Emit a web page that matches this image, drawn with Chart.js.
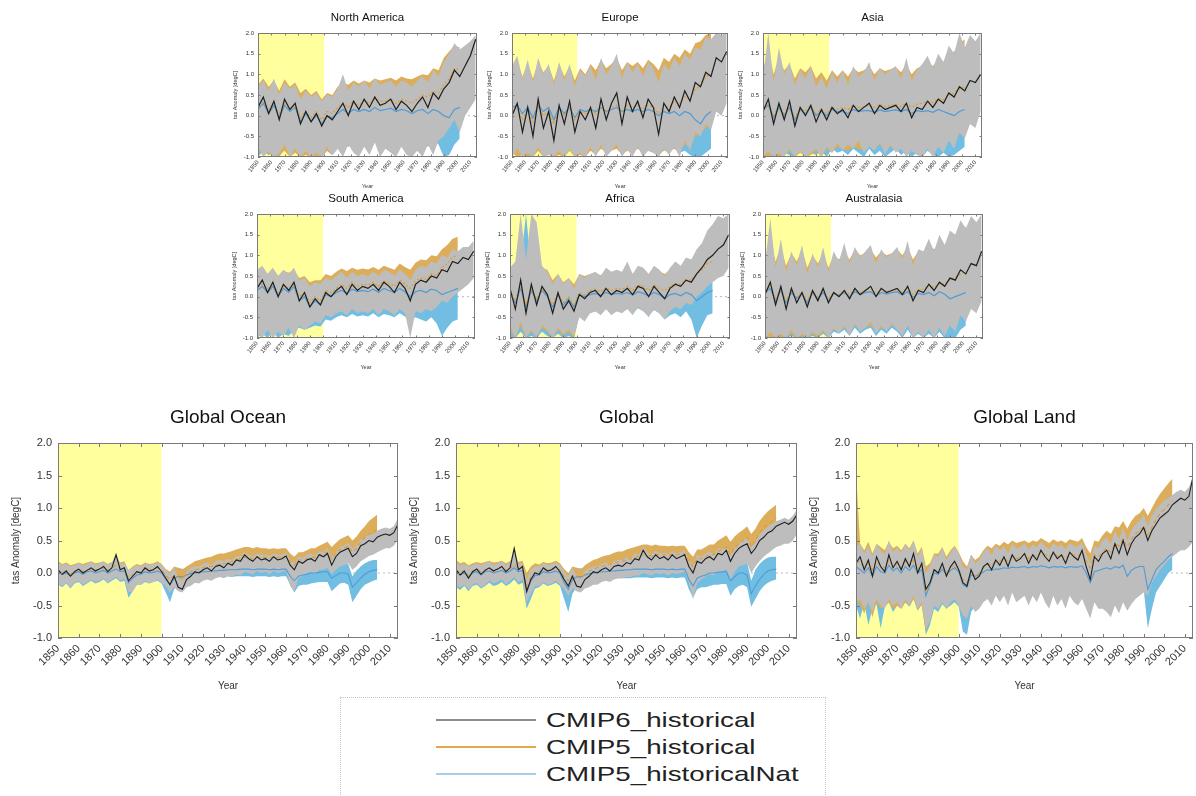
<!DOCTYPE html>
<html>
<head>
<meta charset="utf-8">
<script src="https://cdn.jsdelivr.net/npm/chart.js@4.4.1/dist/chart.umd.min.js"></script>
<style>
  html, body { margin: 0; padding: 0; background: #fff; overflow: hidden; }
  #fig { position: relative; width: 1196px; height: 796px; }
  #legend { position: absolute; left: 340px; top: 697px; width: 486px; height: 110px;
            border: 1px dotted #c4c4c4; box-sizing: border-box; font-family: "Liberation Sans", Arial, sans-serif; }
  #legend .row { position: absolute; left: 0; height: 26px; width: 100%; }
  #legend .swatch { position: absolute; left: 95px; top: 12px; width: 100px; height: 2px; }
  #legend .lab { position: absolute; left: 205px; top: 0; font-size: 21px; line-height: 26px; color: #222;
                 transform: scaleX(1.32); transform-origin: left center; white-space: nowrap; }
</style>
</head>
<body>
<div id="fig">
  <div id="legend">
    <div class="row" style="top:9px"><span class="swatch" style="background:#8c8c8c"></span><span class="lab">CMIP6_historical</span></div>
    <div class="row" style="top:36px"><span class="swatch" style="background:#e2a84a"></span><span class="lab">CMIP5_historical</span></div>
    <div class="row" style="top:63px"><span class="swatch" style="background:#a8cfe9"></span><span class="lab">CMIP5_historicalNat</span></div>
  </div>
</div>
<script>
// Temperature anomalies in hundredths of a degree C.
// Large panels: every 2 years from 1850 (CMIP6 to 2014, CMIP5 to 2004).
// Regional panels: every 4 years from 1850 (CMIP6 to 2014, CMIP5 to 2002).

const REF_PERIOD = [1850, 1900];
const Y_TICKS = [-1.0, -0.5, 0.0, 0.5, 1.0, 1.5, 2.0];

// ---- Global Ocean ----
const GO_C6 = [5,-2,3,-5,2,6,0,4,8,3, 6,10,2,8,28,5,8,-12,-5,2, 0,8,3,5,10,2,-8,-18,-5,-22, -25,-10,-5,2,0,5,8,3,10,12, 8,15,12,20,18,28,22,18,25,20, 22,18,25,20,22,26,12,5,18,15, 20,22,18,28,25,30,12,25,32,35, 38,25,30,42,45,50,48,55,58,60, 58,62,75];
const GO_C6_LO = [-18,-20,-15,-22,-15,-12,-18,-15,-10,-14, -12,-8,-15,-10,-5,-12,-8,-30,-28,-18, -18,-12,-16,-14,-10,-15,-20,-30,-22,-28, -30,-22,-20,-15,-16,-12,-10,-12,-8,-6, -8,-5,-6,-2,-4,2,0,-2,3,0, 2,-2,3,0,2,4,-20,-28,-8,-5, 0,2,-2,5,5,8,-2,5,10,12, 15,5,10,18,22,26,28,32,35,38, 38,42,52];
const GO_C6_HI = [15,12,14,10,12,15,12,14,18,12, 15,18,12,16,30,14,16,5,8,12, 10,15,12,14,16,12,5,-2,8,-8, -12,2,8,10,10,14,16,12,18,20, 18,22,20,26,25,32,28,25,30,28, 28,26,30,28,28,32,20,15,25,24, 28,30,26,34,32,38,25,32,40,42, 46,38,42,52,55,60,60,65,68,70, 68,72,85];
const GO_C5 = [5,0,4,-2,3,5,2,5,6,4, 6,8,4,7,12,6,8,-8,-3,2, 2,6,4,5,8,4,-4,-10,-4,-6, -8,-2,2,5,6,8,10,10,12,14, 14,16,18,20,22,24,24,22,25,24, 24,23,25,24,25,26,18,12,20,20, 22,24,24,28,30,32,22,30,36,38, 42,32,38,48,55,60,62,68];
const GO_C5_LO = [-12,-15,-10,-18,-12,-10,-14,-12,-8,-12, -10,-8,-12,-8,-6,-10,-8,-28,-22,-14, -14,-10,-12,-10,-8,-12,-18,-25,-18,-20, -20,-15,-10,-6,-4,-2,0,0,2,4, 5,6,8,10,12,14,14,12,15,14, 14,13,15,14,15,16,6,0,8,8, 10,12,12,16,18,20,10,18,24,26, 28,20,26,34,40,45,48,52];
const GO_C5_HI = [18,14,16,12,14,16,14,16,18,15, 16,18,14,17,22,16,18,4,10,14, 12,16,14,15,18,14,6,2,10,8, 5,10,14,18,20,22,24,25,28,30, 30,32,34,36,38,40,40,38,40,38, 38,37,38,37,38,38,30,25,32,32, 35,38,38,42,45,48,40,46,52,55, 58,50,56,65,72,80,85,90];
const GO_NAT = [2,-2,0,-4,0,2,-2,2,3,0, 2,4,0,3,6,2,4,-15,-8,-3, -2,2,0,1,3,0,-10,-18,-8,-5, -6,-3,-1,0,1,2,2,3,3,4, 4,5,5,5,6,6,6,5,6,6, 6,5,6,5,6,6,-5,-12,-5,-3, -2,0,0,1,2,2,-8,-4,0,0, -2,-22,-15,-8,-2,2,4,5];
const GO_NAT_LO = [-18,-22,-16,-24,-16,-14,-20,-16,-12,-16, -14,-10,-16,-12,-8,-14,-12,-38,-28,-18, -18,-14,-16,-14,-12,-16,-30,-45,-25,-18, -18,-14,-12,-10,-10,-8,-8,-7,-7,-6, -6,-5,-6,-5,-5,-5,-5,-6,-5,-5, -5,-6,-5,-6,-5,-5,-18,-30,-20,-18, -18,-16,-15,-14,-14,-14,-28,-22,-16,-15, -18,-45,-35,-25,-18,-15,-12,-10];
const GO_NAT_HI = [18,12,14,8,12,14,10,14,16,12, 14,16,12,15,18,14,15,0,5,10, 10,14,12,12,15,12,2,-8,6,8, 6,8,10,10,12,12,13,14,14,14, 15,15,16,16,16,17,17,16,17,17, 17,16,17,16,17,17,8,2,8,10, 10,12,12,14,14,15,5,10,14,15, 14,-5,4,10,15,18,20,20];

// ---- Global ----
const GL_C6 = [5,-3,3,-8,2,6,-2,4,8,3, 6,10,2,8,38,5,10,-28,-10,0, -2,8,3,5,10,2,-10,-20,-5,-20, -22,-10,-5,2,0,5,8,3,10,12, 10,16,14,22,20,35,25,20,28,22, 25,20,28,22,25,28,10,0,18,15, 22,25,20,30,28,35,18,30,38,42, 45,30,38,50,55,62,65,72,75,78, 75,80,90];
const GL_C6_LO = [-20,-22,-18,-25,-18,-15,-22,-18,-12,-16, -14,-10,-18,-12,-6,-14,-10,-45,-32,-20, -20,-14,-18,-16,-12,-18,-25,-35,-24,-28, -30,-24,-22,-18,-18,-14,-12,-14,-10,-8, -8,-6,-6,-4,-4,0,-2,-4,0,-2, 0,-4,0,-2,0,2,-15,-40,-15,-10, -5,-2,-4,2,2,6,-10,2,10,12, 15,0,10,18,25,30,35,40,42,45, 45,50,60];
const GL_C6_HI = [16,12,14,10,12,15,12,15,18,12, 15,18,12,16,40,14,16,-10,5,10, 10,15,12,14,16,12,2,-5,8,-5, -8,3,8,10,10,14,16,12,18,20, 20,24,22,30,28,40,32,28,34,30, 32,28,34,30,32,35,20,12,28,25, 30,33,28,38,36,42,28,38,45,50, 55,40,48,60,65,72,75,80,82,85, 82,88,98];
const GL_C5 = [5,0,4,-4,3,5,2,5,6,4, 6,8,4,7,14,6,8,-20,-6,2, 2,6,4,5,8,4,-6,-12,-4,-6, -8,-2,3,6,8,10,12,13,15,17, 18,20,22,24,26,28,28,26,29,28, 28,27,29,28,29,30,18,10,22,22, 25,28,28,33,36,40,28,38,45,50, 55,40,50,62,70,75,80,85];
const GL_C5_LO = [-14,-18,-12,-20,-14,-12,-16,-14,-10,-14, -12,-10,-14,-10,-6,-12,-10,-45,-28,-16, -16,-12,-14,-12,-10,-14,-22,-30,-20,-22, -22,-16,-10,-6,-4,-2,0,2,4,6, 7,8,10,12,14,16,16,14,17,16, 16,15,17,16,17,18,2,-8,8,10, 12,14,14,18,22,25,12,22,30,32, 36,22,32,42,50,55,60,65];
const GL_C5_HI = [20,15,17,12,15,17,15,17,19,16, 17,19,15,18,25,17,19,0,10,15, 13,17,15,16,19,15,6,0,10,8, 5,12,16,20,22,25,27,28,31,33, 33,36,38,40,42,44,44,42,44,42, 42,41,42,41,42,42,32,25,36,36, 40,44,44,50,54,58,48,56,62,66, 72,60,68,80,88,95,100,105];
const GL_NAT = [2,-3,0,-6,0,2,-3,2,3,0, 2,4,0,3,8,2,4,-30,-12,-4, -3,2,0,1,3,0,-15,-25,-10,-6, -6,-3,-1,0,1,2,2,3,3,4, 4,5,5,6,6,6,6,5,6,6, 6,5,6,5,6,6,-10,-20,-8,-5, -3,0,0,1,2,2,-12,-6,0,0, -3,-32,-20,-10,-2,3,5,6];
const GL_NAT_LO = [-22,-26,-20,-28,-20,-18,-24,-20,-15,-20, -18,-14,-20,-16,-10,-18,-15,-55,-40,-24, -22,-16,-20,-18,-15,-20,-40,-60,-32,-22, -22,-18,-15,-13,-12,-11,-10,-10,-9,-8, -8,-8,-8,-7,-7,-7,-7,-8,-7,-7, -7,-8,-7,-8,-7,-7,-25,-38,-25,-22, -22,-20,-18,-18,-17,-17,-35,-25,-20,-18, -22,-52,-40,-28,-20,-15,-12,-10];
const GL_NAT_HI = [20,14,16,10,14,16,12,16,18,14, 16,18,14,17,20,16,17,-10,4,12, 12,16,14,14,17,14,0,-12,6,8, 7,9,11,12,13,14,15,15,16,16, 17,17,18,18,18,19,19,18,19,19, 19,18,19,18,19,19,8,0,8,10, 12,14,14,16,16,17,6,12,16,17, 16,-12,5,14,20,24,25,25];

// ---- Global Land ----
const LD_C6 = [15,25,5,20,-5,25,10,2,28,8, 18,5,22,10,30,0,15,-25,-15,5, 0,15,-5,10,18,5,-15,-20,5,-10, -5,10,15,5,20,12,25,10,28,18, 22,30,15,28,20,35,25,18,32,22, 28,15,32,25,20,35,10,-10,25,18, 30,35,22,45,30,50,28,45,55,60, 70,50,65,75,85,90,95,105,110,115, 112,118,148];
const LD_C6_LO = [-45,-40,-55,-45,-60,-40,-50,-55,-40,-50, -45,-55,-40,-50,-35,-55,-45,-85,-75,-50, -55,-45,-55,-45,-40,-50,-65,-70,-50,-60, -55,-45,-40,-50,-35,-45,-35,-50,-30,-45, -40,-35,-50,-35,-45,-30,-45,-55,-35,-50, -40,-55,-35,-45,-50,-40,-55,-70,-45,-55, -55,-60,-68,-50,-62,-45,-58,-48,-40,-35, -30,-35,-15,-5,5,12,20,25,30,35, 35,40,48];
const LD_C6_HI = [40,45,30,42,25,45,35,28,50,32, 40,30,45,35,50,25,38,0,10,28, 25,38,20,32,40,30,10,5,28,15, 20,32,38,28,42,35,42,30,45,38, 40,46,36,44,40,48,42,36,46,40, 44,36,46,42,40,48,30,15,42,38, 50,55,45,65,52,70,50,65,75,80, 90,72,88,98,105,112,115,120,125,128, 125,132,148];
const LD_C5 = [20,15,10,15,5,18,10,8,20,10, 15,8,18,10,20,5,12,-30,-15,5, 3,12,0,8,14,5,-10,-15,2,-5, 0,8,14,12,18,18,22,18,25,22, 25,28,22,28,25,32,28,24,30,26, 28,22,30,28,26,32,18,8,28,25, 32,38,32,45,42,52,40,52,60,65, 72,58,70,82,92,98,105,110];
const LD_C5_LO = [-40,-50,-62,-45,-68,-45,-55,-50,-45,-55, -50,-55,-45,-50,-40,-55,-50,-90,-70,-50, -50,-45,-55,-45,-40,-50,-65,-70,-50,-45, -20,-15,-10,-5,0,0,5,5,8,5, 8,10,5,10,8,12,10,5,12,8, 10,5,12,10,8,12,0,-10,10,8, 15,20,15,28,25,35,22,35,42,48, 55,40,52,65,75,82,88,95];
const LD_C5_HI = [155,45,35,48,30,45,40,35,48,38, 42,35,45,38,50,30,40,10,15,30, 30,40,25,35,42,32,18,10,28,20, 25,35,42,38,45,42,48,44,50,46, 48,50,46,50,48,54,50,46,52,48, 50,46,52,50,48,54,40,30,50,48, 58,65,60,72,70,80,68,80,88,92, 100,88,100,112,122,130,138,145];
const LD_NAT = [10,5,0,8,-5,10,2,0,12,3, 8,0,10,4,12,0,5,-35,-18,0, -2,6,-3,4,8,2,-18,-22,-3,-5, -3,2,5,4,6,6,8,7,9,8, 9,10,8,10,9,11,10,8,10,9, 10,8,10,9,9,11,0,-15,2,4, 6,8,6,10,8,12,-5,4,8,10, 10,-25,-10,5,12,18,25,30];
const LD_NAT_LO = [-50,-70,-45,-80,-55,-48,-85,-52,-45,-60, -50,-55,-45,-52,-40,-58,-48,-95,-80,-55, -60,-48,-55,-50,-45,-52,-90,-95,-60,-50, -40,-35,-30,-32,-28,-30,-25,-28,-24,-26, -24,-22,-26,-22,-24,-20,-22,-26,-20,-24, -22,-26,-20,-22,-24,-20,-35,-45,-30,-30, -28,-25,-28,-22,-26,-20,-35,-28,-25,-22, -25,-85,-55,-30,-20,-10,0,5];
const LD_NAT_HI = [35,30,25,32,20,35,25,22,38,28, 30,22,32,26,35,20,28,-5,5,22, 20,28,15,25,30,22,0,-5,20,15, 18,22,25,24,26,26,28,27,29,28, 29,30,28,30,29,31,30,28,30,29, 30,28,30,29,29,31,20,5,22,24, 26,28,26,30,28,32,15,24,28,30, 30,5,15,28,35,40,45,48];

// ---- North America ----
const NAM_C6 = [20,45,5,35,-10,40,15,30,-20,10, -15,5,-25,0,-10, 10,30,0,35,15, 40,20,45,25,30, 40,15,35,25,10, 30,45,20,55,40, 65,80,110,95,120, 145,185];
const NAM_C6_LO = [-75,-100,-85,-100,-90,-70,-100,-80,-100,-85, -100,-90,-100,-75,-95, -80,-100,-70,-90,-100, -75,-95,-65,-100,-80, -90,-100,-75,-95,-100, -85,-100,-70,-95,-60, -50,-30,-10,-40,0, 20,40];
const NAM_C6_HI = [70,85,60,90,50,80,65,75,40,60, 45,55,35,50,45, 65,100,60,80,70, 85,65,90,75,80, 85,70,85,80,70, 85,95,80,110,95, 130,150,175,160,170, 180,195];
const NAM_C5 = [25,35,15,30,5,30,15,25,-5,10, -5,10,-10,10,5, 20,30,20,35,25, 35,30,40,35,35, 40,30,40,35,30, 40,50,45,60,55, 75,90,115,110];
const NAM_C5_LO = [-80,-95,-90,-100,-95,-85,-100,-90,-100,-95, -100,-100,-100,-85,-95, -60,-40,-50,-30,-45, -30,-40,-25,-35,-30, -25,-40,-25,-30,-40, -30,-20,-30,-10,-20, 0,10,35,30];
const NAM_C5_HI = [75,90,70,85,60,88,70,80,55,65, 50,60,40,55,50, 70,80,75,85,78, 85,80,90,85,88, 92,85,95,90,88, 95,100,98,115,110, 140,155,170,165];
const NAM_NAT = [15,30,5,25,-5,25,10,20,-15,5, -15,0,-20,0,-5, 5,15,5,15,10, 15,10,20,12,15, 18,10,15,12,5, 12,15,5,15,10, 0,-5,15,20];
const NAM_NAT_LO = [-100,-85,-95,-90,-100,-80,-95,-85,-100,-90, -100,-95,-100,-85,-95, -80,-70,-75,-65,-70, -65,-70,-60,-70,-65, -60,-70,-65,-70,-75, -70,-65,-75,-60,-70, -100,-95,-70,-55];
const NAM_NAT_HI = [65,75,55,70,40,70,55,65,35,50, 40,45,30,45,40, 55,60,50,60,55, 60,55,62,58,60, 62,55,60,58,50, 55,60,50,60,55, 45,40,55,60];

// ---- Europe ----
const EUR_C6 = [0,30,-40,20,-50,40,-30,10,-60,25, -20,35,-40,10,-10, 20,-30,40,-10,30, 55,-20,45,10,35, -5,40,20,-45,30, 10,45,20,60,35, 80,70,105,95,140, 130,155];
const EUR_C6_LO = [-100,-80,-100,-90,-100,-75,-100,-95,-100,-85, -100,-80,-100,-90,-100, -75,-100,-70,-100,-85, -70,-100,-80,-100,-75, -100,-85,-90,-100,-80, -95,-75,-100,-60,-85, -40,-50,-20,-35,10, 0,30];
const EUR_C6_HI = [120,145,90,135,80,140,100,125,75,130, 85,125,70,110,95, 120,85,140,100,120, 150,90,130,105,125, 95,130,115,80,125, 110,140,120,150,135, 165,160,190,185,200, 195,200];
const EUR_C5 = [10,20,-10,15,-15,20,0,10,-20,15, 0,20,-10,10,5, 15,5,20,10,20, 25,10,25,20,25, 15,25,20,5,25, 20,35,30,45,40, 65,70,95,100];
const EUR_C5_LO = [-90,-100,-95,-100,-100,-85,-100,-90,-100,-95, -100,-85,-100,-95,-100, -85,-95,-80,-90,-85, -80,-95,-85,-90,-80, -90,-85,-90,-95,-85, -85,-80,-85,-70,-75, -50,-45,-30,-20];
const EUR_C5_HI = [110,130,95,125,90,130,105,120,85,125, 95,120,85,115,100, 125,110,135,115,125, 140,110,130,120,130, 115,135,125,110,140, 130,150,140,160,150, 175,180,195,200];
const EUR_NAT = [20,25,5,20,-5,25,10,20,-10,20, 5,20,-5,15,10, 15,10,20,10,15, 20,10,15,10,15, 10,15,10,0,10, 5,10,0,10,5, -10,-20,0,10];
const EUR_NAT_LO = [-80,-95,-85,-100,-90,-75,-95,-80,-100,-85, -90,-75,-95,-85,-90, -75,-85,-70,-80,-75, -70,-85,-75,-80,-70, -80,-75,-80,-90,-80, -85,-80,-90,-85,-95, -100,-100,-90,-80];
const EUR_NAT_HI = [90,110,80,100,70,105,85,95,65,100, 80,95,70,90,85, 95,85,100,85,90, 100,85,95,88,92, 88,95,90,75,88, 85,90,80,90,85, 70,60,80,90];

// ---- Asia ----
const ASI_C6 = [10,40,-20,30,-10,35,-25,20,0,25, -15,15,-10,20,5, 15,-5,25,10,20, 30,5,25,15,20, 25,10,30,-5,20, 15,35,20,40,30, 55,45,70,60,85, 80,100];
const ASI_C6_LO = [-100,-85,-100,-90,-100,-80,-100,-85,-100,-90, -80,-100,-75,-90,-65, -85,-70,-80,-60,-90, -75,-85,-65,-95,-70, -90,-80,-100,-85,-95, -100,-80,-100,-75,-90, -60,-80,-40,-55,-20, -30,10];
const ASI_C6_HI = [90,200,80,165,100,130,75,110,90,120, 70,95,65,105,80, 110,75,120,95,105, 130,85,115,100,110, 120,90,140,85,110, 125,145,115,150,130, 170,150,200,165,195, 180,200];
const ASI_C5 = [20,30,0,25,5,25,-5,20,10,25, 5,15,5,20,15, 20,15,25,20,22, 25,20,28,22,25, 28,22,30,20,28, 30,35,32,40,38, 50,55,65,70];
const ASI_C5_LO = [-95,-100,-90,-100,-95,-85,-100,-90,-100,-95, -85,-100,-80,-90,-75, -80,-85,-75,-80,-85, -75,-80,-70,-85,-75, -80,-75,-85,-80,-85, -80,-75,-80,-70,-75, -60,-55,-45,-40];
const ASI_C5_HI = [110,160,100,140,110,125,90,115,105,120, 90,105,85,110,95, 110,95,115,105,110, 120,100,115,108,112, 118,105,125,100,115, 120,130,120,135,130, 150,155,175,185];
const ASI_NAT = [15,25,-5,20,0,20,-10,15,5,20, 0,10,0,15,10, 10,5,15,10,12, 12,8,14,10,12, 14,10,15,5,12, 10,12,8,15,10, 5,0,10,15];
const ASI_NAT_LO = [-100,-95,-100,-100,-90,-95,-100,-85,-95,-90, -95,-85,-100,-80,-90, -85,-95,-80,-90,-100, -80,-95,-85,-100,-90, -80,-95,-85,-100,-90, -100,-85,-95,-100,-90, -100,-95,-85,-75];
const ASI_NAT_HI = [80,110,70,100,85,95,65,90,80,95, 70,85,70,90,80, 85,75,90,80,85, 90,80,88,82,86, 90,80,92,75,85, 85,88,80,90,82, 75,70,80,85];

// ---- South America ----
const SAM_C6 = [20,40,10,35,0,30,15,35,-10,10, -25,-5,-20,10,0, 15,25,5,30,15, 25,20,30,15,35, 25,10,35,20,-10, 30,40,35,50,45, 65,60,85,80,95, 90,110];
const SAM_C6_LO = [-90,-100,-80,-100,-85,-95,-75,-100,-70,-80, -70,-60,-65,-45,-50, -40,-35,-45,-30,-40, -35,-40,-30,-45,-30, -35,-45,-30,-40,-100, -35,-40,-30,-35,-25, -10,-15,0,10,20, 30,45];
const SAM_C6_HI = [65,75,55,70,50,65,55,70,40,45, 25,35,30,45,40, 50,60,45,60,50, 55,50,60,50,65, 60,50,65,55,40, 65,75,70,85,80, 100,95,115,110,120, 120,135];
const SAM_C5 = [25,30,20,30,10,25,20,30,0,10, -15,0,-10,15,10, 20,30,20,35,25, 30,28,35,25,38, 32,25,40,30,20, 38,45,42,55,52, 70,80,95,100];
const SAM_C5_LO = [-70,-80,-60,-75,-65,-70,-55,-70,-50,-60, -60,-50,-55,-35,-40, -25,-15,-20,-10,-15, -10,-15,-5,-15,-5, -10,-15,-5,-10,-20, -5,5,0,15,10, 25,30,45,50];
const SAM_C5_HI = [60,70,55,68,50,62,58,65,45,50, 35,40,40,55,50, 60,68,62,70,65, 68,66,72,65,75, 70,65,80,72,65, 82,90,88,100,98, 115,125,140,145];
const SAM_NAT = [15,25,10,25,0,20,10,25,-10,0, -25,-10,-20,5,0, 10,15,8,18,12, 15,12,18,10,20, 15,10,20,12,0, 12,15,10,18,15, 5,10,15,20];
const SAM_NAT_LO = [-100,-90,-100,-85,-100,-90,-95,-80,-75,-80, -75,-70,-72,-55,-58, -50,-45,-50,-42,-48, -45,-48,-40,-50,-42, -45,-50,-40,-48,-60, -50,-55,-60,-50,-65, -95,-75,-60,-55];
const SAM_NAT_HI = [55,65,50,62,45,58,50,62,30,40, 20,30,25,40,35, 45,50,42,52,48, 50,48,52,45,55, 50,45,55,48,40, 48,52,45,55,50, 40,45,50,55];

// ---- Africa ----
const AFR_C6 = [20,-30,40,-40,30,-20,25,5,-40,10, -30,-10,-35,5,-5, 10,15,0,20,5, 15,10,20,5,25, 20,0,25,10,-5, 20,30,25,40,35, 55,70,90,100,115, 125,150];
const AFR_C6_LO = [-70,-100,-60,-100,-80,-100,-70,-80,-100,-75, -90,-80,-95,-50,-60, -40,-35,-45,-30,-45, -35,-40,-30,-45,-25, -35,-50,-30,-40,-55, -35,-25,-30,-15,-20, 0,10,25,35,45, 50,70];
const AFR_C6_HI = [70,85,200,90,200,180,75,60,30,55, 30,45,20,55,45, 55,60,50,70,60, 65,60,85,55,75, 70,55,75,65,50, 70,85,75,95,90, 115,130,160,175,195, 190,200];
const AFR_C5 = [15,-10,25,-20,20,-5,20,5,-20,10, -15,0,-20,10,5, 15,18,12,22,15, 20,18,25,15,28, 25,15,28,20,15, 25,32,30,42,40, 55,65,80,85];
const AFR_C5_LO = [-80,-100,-70,-100,-85,-95,-75,-85,-100,-80, -95,-85,-100,-40,-45, -25,-20,-28,-15,-25, -20,-22,-15,-25,-10, -15,-25,-10,-20,-25, -10,0,-5,10,5, 20,30,45,50];
const AFR_C5_HI = [65,80,90,85,75,60,70,65,40,55, 35,45,30,55,50, 55,58,52,62,56, 60,58,65,55,68, 65,55,68,62,55, 65,72,70,85,82, 100,110,125,130];
const AFR_NAT = [10,-15,20,-25,15,-10,15,0,-25,5, -20,-5,-25,5,0, 5,8,3,10,5, 8,6,10,4,12, 8,2,10,5,-5, 5,8,2,10,5, -10,0,10,15];
const AFR_NAT_LO = [-100,-100,-85,-100,-95,-100,-85,-95,-100,-90, -100,-95,-100,-45,-55, -40,-35,-42,-30,-40, -35,-38,-30,-40,-28, -35,-45,-32,-40,-55, -45,-40,-50,-35,-55, -100,-70,-45,-40];
const AFR_NAT_HI = [55,70,80,200,65,50,60,55,25,45, 25,35,15,45,40, 40,42,38,45,40, 42,40,45,38,48, 42,35,45,40,30, 40,45,38,48,40, 30,40,50,55];

// ---- Australasia ----
const AUS_C6 = [5,35,-20,25,-30,20,-15,10,-25,15, -10,20,-15,10,0, 15,-5,20,5,15, 25,0,20,10,15, 20,5,25,-10,15, 10,30,15,35,25, 45,40,65,55,80, 75,110];
const AUS_C6_LO = [-100,-85,-100,-90,-100,-80,-100,-90,-100,-85, -95,-80,-100,-75,-90, -70,-95,-65,-85,-75, -60,-90,-70,-85,-65, -80,-95,-70,-100,-85, -100,-80,-100,-75,-95, -70,-85,-45,-60,-30, -40,-10];
const AUS_C6_HI = [80,190,70,140,60,110,75,125,55,105, 70,120,60,110,85, 130,80,120,95,110, 125,80,115,95,105, 120,90,135,75,115, 110,140,110,150,125, 160,150,185,165,195, 180,200];
const AUS_C5 = [15,25,-5,20,-10,15,0,10,-10,15, 0,15,-5,10,5, 15,5,18,10,15, 20,8,18,12,16, 20,10,22,5,18, 18,28,22,32,30, 42,45,55,60];
const AUS_C5_LO = [-90,-100,-95,-100,-95,-90,-100,-95,-100,-90, -100,-85,-95,-80,-85, -75,-85,-70,-80,-75, -70,-85,-75,-80,-70, -75,-85,-70,-90,-80, -85,-75,-80,-70,-75, -60,-55,-45,-40];
const AUS_C5_HI = [90,140,85,120,75,105,85,115,70,100, 80,105,70,100,90, 110,90,115,100,105, 115,95,110,100,105, 115,100,120,90,110, 110,125,115,130,125, 145,150,165,170];
const AUS_NAT = [10,20,-10,15,-15,10,-5,8,-15,10, -5,10,-10,8,2, 10,0,12,5,10, 12,2,10,6,10, 12,4,12,-2,8, 5,10,2,12,6, -5,0,5,10];
const AUS_NAT_LO = [-100,-95,-100,-100,-100,-95,-100,-100,-100,-95, -100,-90,-100,-85,-90, -80,-95,-75,-90,-80, -75,-95,-80,-90,-75, -85,-100,-80,-100,-90, -100,-90,-100,-85,-100, -100,-100,-80,-70];
const AUS_NAT_HI = [75,120,65,100,60,90,70,95,55,85, 65,90,55,85,75, 90,70,92,80,85, 92,72,88,80,85, 92,75,95,65,85, 80,88,75,90,80, 70,75,80,85];

// ---------------------------------------------------------------
const FONT = '"Liberation Sans", Arial, Helvetica, sans-serif';
const COL = {
  ref: '#ffff9e', c6Band: '#bdbdbd', c5Band: '#dcae5c', natBand: '#72bde2',
  c6Line: '#1e1e1e', c5Line: '#e59a22', natLine: '#4f9bd6', zero: '#b8b8b8', frame: '#7a7a7a'
};

// Styles for the two panel sizes
const LARGE = {
  start: 1850, step: 2, xMax: 2014, yW: 52, padR: 10, head: 43, plotH: 195, xH: 58,
  titleSize: 19, titlePad: {top: 6.6, bottom: 13.6},
  tickSize: 11, xTickPad: 4, yTickPad: 6, rot: 45,
  axisTitleSize: 10, xTitlePad: {top: 0, bottom: 4}, yTitlePad: {top: 4, bottom: 4},
  meanW: 1.1, dash: [4, 3], tick: 4
};
const SMALL = {
  start: 1850, step: 4, xMax: 2015, yW: 28, padR: 6, head: 33, plotH: 124, xH: 35,
  titleSize: 11.5, titlePad: {top: 10.7, bottom: 8.5},
  tickSize: 6, xTickPad: 2, yTickPad: 4, rot: 50,
  axisTitleSize: 5.5, xTitlePad: {top: 0, bottom: 2}, yTitlePad: {top: 2, bottom: 1},
  meanW: 1.2, dash: [2, 2], tick: 2.5
};

const PANELS = [
  {title: 'North America', size: SMALL, left: 258, top: 33, w: 219,
   c6: [NAM_C6, NAM_C6_LO, NAM_C6_HI], c5: [NAM_C5, NAM_C5_LO, NAM_C5_HI], nat: [NAM_NAT, NAM_NAT_LO, NAM_NAT_HI]},
  {title: 'Europe', size: SMALL, left: 512, top: 33, w: 216,
   c6: [EUR_C6, EUR_C6_LO, EUR_C6_HI], c5: [EUR_C5, EUR_C5_LO, EUR_C5_HI], nat: [EUR_NAT, EUR_NAT_LO, EUR_NAT_HI]},
  {title: 'Asia', size: SMALL, left: 763, top: 33, w: 219,
   c6: [ASI_C6, ASI_C6_LO, ASI_C6_HI], c5: [ASI_C5, ASI_C5_LO, ASI_C5_HI], nat: [ASI_NAT, ASI_NAT_LO, ASI_NAT_HI]},
  {title: 'South America', size: SMALL, left: 257, top: 214, w: 218,
   c6: [SAM_C6, SAM_C6_LO, SAM_C6_HI], c5: [SAM_C5, SAM_C5_LO, SAM_C5_HI], nat: [SAM_NAT, SAM_NAT_LO, SAM_NAT_HI]},
  {title: 'Africa', size: SMALL, left: 510, top: 214, w: 220,
   c6: [AFR_C6, AFR_C6_LO, AFR_C6_HI], c5: [AFR_C5, AFR_C5_LO, AFR_C5_HI], nat: [AFR_NAT, AFR_NAT_LO, AFR_NAT_HI]},
  {title: 'Australasia', size: SMALL, left: 765, top: 214, w: 218,
   c6: [AUS_C6, AUS_C6_LO, AUS_C6_HI], c5: [AUS_C5, AUS_C5_LO, AUS_C5_HI], nat: [AUS_NAT, AUS_NAT_LO, AUS_NAT_HI]},
  {title: 'Global Ocean', size: LARGE, left: 58, top: 443, w: 340,
   c6: [GO_C6, GO_C6_LO, GO_C6_HI], c5: [GO_C5, GO_C5_LO, GO_C5_HI], nat: [GO_NAT, GO_NAT_LO, GO_NAT_HI]},
  {title: 'Global', size: LARGE, left: 456, top: 443, w: 341,
   c6: [GL_C6, GL_C6_LO, GL_C6_HI], c5: [GL_C5, GL_C5_LO, GL_C5_HI], nat: [GL_NAT, GL_NAT_LO, GL_NAT_HI]},
  {title: 'Global Land', size: LARGE, left: 856, top: 443, w: 337,
   c6: [LD_C6, LD_C6_LO, LD_C6_HI], c5: [LD_C5, LD_C5_LO, LD_C5_HI], nat: [LD_NAT, LD_NAT_LO, LD_NAT_HI]}
];

// Plot frame with inward tick marks on all four sides
const framePlugin = {
  id: 'frame',
  afterDatasetsDraw(chart, args, opts) {
    const {ctx, chartArea: a, scales} = chart;
    ctx.save();
    ctx.strokeStyle = opts.color;
    ctx.lineWidth = 1;
    ctx.strokeRect(a.left + 0.5, a.top + 0.5, a.right - a.left - 1, a.bottom - a.top - 1);
    ctx.beginPath();
    scales.x.ticks.forEach(t => {
      const px = Math.round(scales.x.getPixelForValue(t.value)) + 0.5;
      ctx.moveTo(px, a.bottom); ctx.lineTo(px, a.bottom - opts.len);
      ctx.moveTo(px, a.top); ctx.lineTo(px, a.top + opts.len);
    });
    scales.y.ticks.forEach(t => {
      const py = Math.round(scales.y.getPixelForValue(t.value)) + 0.5;
      ctx.moveTo(a.left, py); ctx.lineTo(a.left + opts.len, py);
      ctx.moveTo(a.right, py); ctx.lineTo(a.right - opts.len, py);
    });
    ctx.stroke();
    ctx.restore();
  }
};

function sampleYears(start, step, n) {
  const out = [];
  for (let i = 0; i < n; i++) out.push(start + i * step);
  return out;
}
function toPoints(vals, S) {
  const yrs = sampleYears(S.start, S.step, vals.length);
  return vals.map((v, i) => ({x: yrs[i], y: v / 100}));
}
function meanLine(vals, color, S, dash, order) {
  return {data: toPoints(vals, S), borderColor: color, borderWidth: S.meanW, borderDash: dash || [],
          pointRadius: 0, fill: false, tension: 0, order};
}
function bandEdge(vals, color, S, fill, order) {
  return {data: toPoints(vals, S), borderColor: 'rgba(0,0,0,0)', borderWidth: 0, backgroundColor: color,
          pointRadius: 0, fill, tension: 0, order};
}

function drawPanel(p) {
  const S = p.size;
  const W = S.yW + p.w + S.padR;
  const H = S.head + S.plotH + S.xH;
  const cv = document.createElement('canvas');
  cv.width = W; cv.height = H;
  cv.style.cssText = `position:absolute;left:${p.left - S.yW}px;top:${p.top - S.head}px;width:${W}px;height:${H}px;`;
  document.getElementById('fig').appendChild(cv);

  const datasets = [
    meanLine(p.c6[0], COL.c6Line, S, null, 1),
    meanLine(p.c5[0], COL.c5Line, S, S.dash, 2),
    meanLine(p.nat[0], COL.natLine, S, null, 3),
    bandEdge(p.c6[2], COL.c6Band, S, '+1', 7),
    bandEdge(p.c6[1], COL.c6Band, S, false, 7),
    bandEdge(p.c5[2], COL.c5Band, S, '+1', 8),
    bandEdge(p.c5[1], COL.c5Band, S, false, 8),
    bandEdge(p.nat[2], COL.natBand, S, '+1', 9),
    bandEdge(p.nat[1], COL.natBand, S, false, 9),
    {data: [{x: S.start, y: 0}, {x: S.xMax, y: 0}], borderColor: COL.zero, borderWidth: 1,
     borderDash: [2, 3], pointRadius: 0, fill: false, order: 9.5},
    {data: REF_PERIOD.map(yr => ({x: yr, y: Y_TICKS[Y_TICKS.length - 1]})), borderWidth: 0,
     borderColor: 'rgba(0,0,0,0)', backgroundColor: COL.ref, pointRadius: 0, fill: 'start', order: 10}
  ];

  new Chart(cv, {
    type: 'line',
    data: {datasets},
    plugins: [framePlugin],
    options: {
      responsive: false, animation: false, devicePixelRatio: 1,
      layout: {padding: {left: 0, right: S.padR, top: 0, bottom: 0}},
      plugins: {
        legend: {display: false}, tooltip: {enabled: false},
        title: {display: true, text: p.title, fullSize: false, color: '#111',
                font: {family: FONT, size: S.titleSize, weight: 'normal'}, padding: S.titlePad},
        frame: {color: COL.frame, len: S.tick}
      },
      scales: {
        x: {
          type: 'linear', min: S.start, max: S.xMax,
          grid: {display: false, drawTicks: false}, border: {display: false},
          ticks: {stepSize: 10, includeBounds: false, autoSkip: false, minRotation: S.rot, maxRotation: S.rot,
                  padding: S.xTickPad, color: '#333', font: {family: FONT, size: S.tickSize},
                  callback: v => String(v)},
          title: {display: true, text: 'Year', color: '#333', font: {family: FONT, size: S.axisTitleSize},
                  padding: S.xTitlePad},
          afterFit: s => { s.height = S.xH; }
        },
        y: {
          type: 'linear', min: Y_TICKS[0], max: Y_TICKS[Y_TICKS.length - 1],
          grid: {display: false, drawTicks: false}, border: {display: false},
          afterBuildTicks: s => { s.ticks = Y_TICKS.map(v => ({value: v})); },
          ticks: {padding: S.yTickPad, color: '#333', font: {family: FONT, size: S.tickSize},
                  callback: v => Number(v).toFixed(1)},
          title: {display: true, text: 'tas Anomaly [degC]', color: '#333',
                  font: {family: FONT, size: S.axisTitleSize}, padding: S.yTitlePad},
          afterFit: s => { s.width = S.yW; }
        }
      }
    }
  });
}

PANELS.forEach(drawPanel);
</script>
</body>
</html>
